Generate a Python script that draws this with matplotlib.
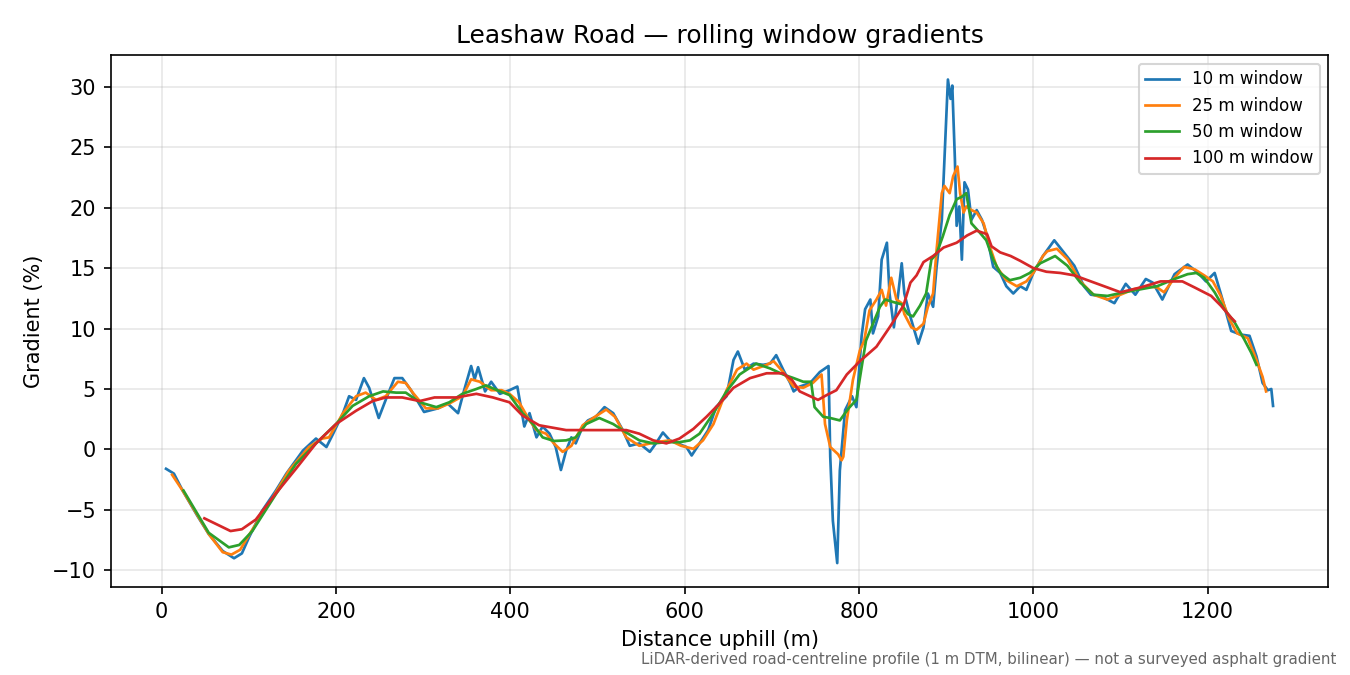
import matplotlib.pyplot as plt

# 10 m window (distance m, gradient %)
d10 = [5, 14, 24, 41, 54, 70, 83, 92, 100, 115, 131, 143, 162, 177, 189, 196, 208, 215, 223, 232,
       238, 249, 257, 267, 276, 286, 301, 317, 328, 340, 347, 355, 359, 363, 371, 378, 388, 399, 408, 416,
       422, 430, 437, 445, 452, 458, 464, 470, 475, 483, 489, 498, 508, 518, 529, 537, 548, 560, 567, 575,
       583, 592, 602, 608, 617, 627, 636, 648, 656, 661, 669, 679, 690, 698, 705, 713, 721, 725, 732, 744,
       755, 765, 767, 770, 775, 778, 784, 792, 797, 803, 807, 813, 816, 822, 826, 832, 835, 840, 845,
       849, 852, 858, 868, 874, 879, 885, 889, 895, 898, 902, 905, 907, 910, 912, 915, 918, 921, 925, 929,
       935, 941, 946, 954, 962, 969, 977, 985, 992, 1000, 1011, 1024, 1035, 1047, 1058, 1066, 1077, 1093, 1106, 1117,
       1129, 1137, 1148, 1162, 1177, 1189, 1198, 1208, 1217, 1227, 1238, 1248, 1256, 1263, 1269, 1273, 1275]
g10 = [-1.6, -2.0, -3.4, -5.5, -7.0, -8.4, -9.0, -8.6, -7.3, -5.1, -3.4, -2.0, -0.1, 0.9, 0.2, 1.2, 3.0, 4.4, 4.1, 5.9,
       5.1, 2.6, 4.1, 5.9, 5.9, 4.9, 3.1, 3.4, 3.8, 3.0, 4.9, 6.9, 5.8, 6.8, 4.8, 5.6, 4.6, 4.9, 5.2, 1.9,
       3.0, 1.0, 1.9, 1.3, 0.2, -1.7, -0.1, 1.0, 0.5, 1.9, 2.4, 2.7, 3.5, 3.0, 1.6, 0.3, 0.5, -0.2, 0.5, 1.4,
       0.75, 0.5, 0.2, -0.5, 0.5, 1.6, 3.5, 4.4, 7.4, 8.1, 6.6, 7.1, 7.0, 7.1, 7.8, 6.6, 5.5, 4.8, 5.2, 5.5,
       6.4, 6.9, -0.6, -5.9, -9.4, -1.75, 3.25, 4.4, 3.5, 9.4, 11.6, 12.4, 9.6, 11.0, 15.7, 17.1, 12.9, 10.1, 12.9,
       15.4, 12.9, 11.2, 8.75, 10.1, 12.9, 11.8, 15.1, 19.0, 24.0, 30.6, 29.0, 30.1, 24.0, 18.5, 20.1, 15.7, 22.1, 21.5, 19.0,
       19.8, 19.0, 17.9, 15.1, 14.6, 13.5, 12.9, 13.5, 13.2, 14.6, 16.0, 17.3, 16.3, 15.2, 13.5, 12.8, 12.7, 12.1, 13.7, 12.8,
       14.1, 13.8, 12.4, 14.5, 15.3, 14.6, 13.9, 14.6, 12.4, 9.8, 9.5, 9.4, 7.7, 5.5, 4.9, 5.0, 3.6]

# 25 m window
d25 = [12, 24, 54, 70, 80, 90, 103, 123, 146, 169, 184, 192, 208, 223, 234, 246, 257, 271, 280, 288,
       303, 317, 330, 345, 355, 365, 378, 390, 399, 410, 422, 430, 441, 450, 460, 470, 483, 497, 510, 520,
       533, 548, 567, 583, 596, 610, 621, 633, 648, 660, 671, 679, 694, 702, 713, 725, 736, 747, 757, 761,
       767, 776, 780, 782, 786, 793, 801, 806, 812, 820, 826, 831, 837, 843, 849, 852, 860, 866, 874, 879,
       885, 889, 895, 898, 904, 908, 913, 916, 920, 923, 929, 935, 943, 950, 958, 969, 981, 992, 1000, 1011,
       1016, 1027, 1039, 1054, 1069, 1085, 1100, 1115, 1131, 1142, 1150, 1162, 1173, 1185, 1196, 1206, 1215, 1225, 1234, 1246,
       1256, 1263, 1267]
g25 = [-2.1, -3.4, -7.0, -8.5, -8.7, -8.3, -6.75, -4.5, -1.75, 0.2, 0.9, 1.0, 3.0, 4.4, 4.7, 4.1, 4.4, 5.6, 5.5, 4.7,
       3.4, 3.4, 3.8, 4.4, 5.8, 5.6, 4.9, 4.9, 4.6, 3.9, 2.4, 1.6, 1.3, 0.5, -0.2, 0.3, 2.0, 2.7, 3.3, 2.7,
       1.0, 0.3, 0.6, 0.75, 0.3, 0.05, 0.75, 2.1, 4.9, 6.6, 7.1, 6.6, 7.0, 7.3, 6.4, 5.2, 5.1, 5.5, 6.2, 2.1,
       0.2, -0.4, -0.9, -0.6, 2.4, 5.75, 8.2, 9.0, 11.5, 12.4, 13.2, 11.9, 14.2, 12.4, 12.1, 11.2, 10.1, 9.9, 10.4, 11.8,
       12.9, 16.5, 21.2, 21.8, 21.2, 22.6, 23.4, 21.2, 19.6, 20.1, 19.8, 19.6, 18.7, 16.8, 15.1, 14.0, 13.5, 13.9, 14.6, 16.0,
       16.4, 16.6, 15.75, 13.9, 12.8, 12.4, 12.8, 13.25, 13.5, 13.4, 13.0, 14.2, 15.1, 14.9, 14.4, 13.9, 12.7, 10.75, 9.6, 9.2,
       7.4, 6.0, 4.8]

# 50 m window
d50 = [25, 54, 77, 89, 104, 131, 154, 177, 200, 219, 238, 254, 269, 280, 296, 315, 330, 345, 361, 372,
       385, 399, 414, 426, 437, 450, 464, 475, 487, 502, 518, 533, 548, 564, 579, 594, 606, 617, 633, 648,
       663, 682, 698, 713, 725, 736, 745, 749, 759, 767, 778, 788, 797, 803, 808, 816, 824, 830, 839, 849,
       856, 862, 870, 877, 883, 889, 896, 904, 912, 918, 923, 929, 939, 946, 954, 962, 973, 985, 996, 1008,
       1025, 1039, 1054, 1069, 1085, 1104, 1123, 1142, 1162, 1177, 1187, 1196, 1208, 1219, 1231, 1242, 1250, 1256]
g50 = [-3.4, -6.9, -8.1, -7.9, -6.75, -3.7, -1.2, 0.5, 2.1, 3.6, 4.4, 4.8, 4.7, 4.7, 3.9, 3.5, 3.9, 4.6, 5.0, 5.3,
       4.9, 4.5, 3.0, 2.1, 1.0, 0.7, 0.75, 1.0, 2.1, 2.6, 2.1, 1.4, 0.75, 0.5, 0.6, 0.6, 0.75, 1.3, 3.0, 4.8,
       6.2, 7.1, 6.7, 6.2, 5.9, 5.6, 5.6, 3.5, 2.7, 2.6, 2.4, 3.4, 4.1, 6.8, 9.0, 10.4, 11.8, 12.4, 12.2, 12.0,
       11.2, 11.0, 11.9, 12.9, 15.7, 16.2, 17.6, 19.4, 20.7, 20.9, 21.2, 18.7, 17.9, 17.3, 15.7, 14.6, 14.0, 14.2, 14.6, 15.4,
       16.0, 15.2, 13.8, 12.8, 12.7, 13.0, 13.25, 13.5, 14.1, 14.5, 14.6, 14.2, 13.0, 11.6, 10.5, 9.1, 8.0, 7.0]

# 100 m window
d100 = [49, 79, 92, 108, 127, 154, 177, 200, 223, 242, 257, 276, 296, 313, 338, 361, 380, 399, 414, 433,
        464, 487, 510, 533, 548, 564, 579, 594, 610, 625, 640, 656, 675, 694, 713, 723, 732, 744, 753, 763,
        774, 786, 801, 820, 836, 851, 859, 866, 874, 885, 897, 912, 924, 935, 947, 952, 962, 974,
        985, 1000, 1015, 1031, 1047, 1066, 1085, 1100, 1123, 1146, 1171, 1185, 1204, 1215, 1227, 1231]
g100 = [-5.7, -6.75, -6.6, -5.8, -4.0, -1.6, 0.5, 2.1, 3.2, 4.0, 4.3, 4.3, 4.0, 4.3, 4.3, 4.6, 4.3, 3.9, 2.8, 2.0,
        1.6, 1.6, 1.6, 1.6, 1.3, 0.75, 0.5, 0.9, 1.7, 2.7, 3.8, 5.1, 5.9, 6.3, 6.3, 5.75, 4.8, 4.4, 4.1, 4.5,
        4.9, 6.2, 7.3, 8.5, 10.2, 11.9, 13.8, 14.4, 15.5, 16.0, 16.7, 17.1, 17.7, 18.1, 17.8, 16.8, 16.3, 16.0,
        15.6, 15.0, 14.7, 14.6, 14.4, 13.9, 13.4, 13.0, 13.4, 13.9, 13.9, 13.4, 12.7, 11.9, 10.9, 10.6]

fig, ax = plt.subplots(figsize=(9, 4.5), dpi=150)

ax.plot(d10, g10, color="#1f77b4", lw=1.3, label="10 m window")
ax.plot(d25, g25, color="#ff7f0e", lw=1.3, label="25 m window")
ax.plot(d50, g50, color="#2ca02c", lw=1.3, label="50 m window")
ax.plot(d100, g100, color="#d62728", lw=1.3, label="100 m window")

ax.set_title("Leashaw Road — rolling window gradients", fontsize=12)
ax.set_xlabel("Distance uphill (m)", fontsize=10)
ax.set_ylabel("Gradient (%)", fontsize=10)
ax.tick_params(labelsize=10)
ax.grid(True, alpha=0.3)
ax.legend(loc="upper right", fontsize=8)

fig.subplots_adjust(left=0.082, right=0.984, top=0.918, bottom=0.13)
fig.text(0.99, 0.012, "LiDAR-derived road-centreline profile (1 m DTM, bilinear) — not a surveyed asphalt gradient",
         ha="right", va="bottom", fontsize=7.2, color="#666666")

plt.savefig("out.png", dpi=150)
plt.close()
